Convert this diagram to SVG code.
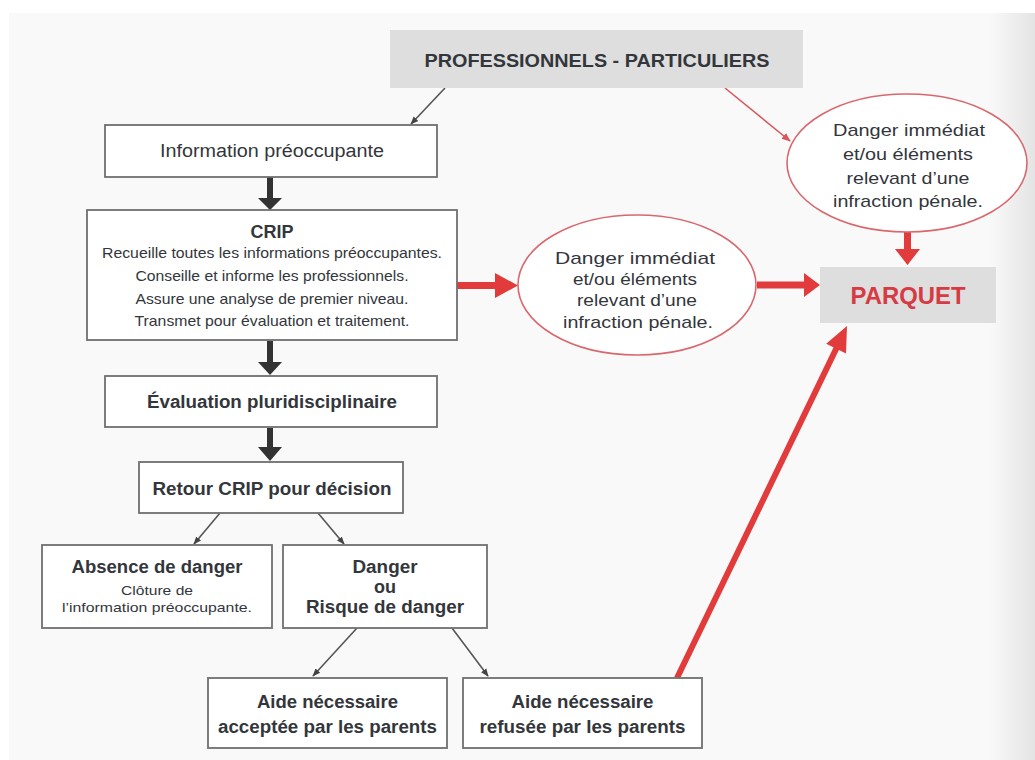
<svg xmlns="http://www.w3.org/2000/svg" width="1035" height="760" viewBox="0 0 1035 760">
<defs>
<style>
.t{font-family:"Liberation Sans",Arial,sans-serif;fill:#33363b;text-anchor:middle}
.b{font-weight:bold}
.box{fill:#fff;stroke:#6f6f6f;stroke-width:1.8}
.grey{fill:#dedede;stroke:none}
.ell{fill:#fff;stroke:#d9686e;stroke-width:1.6}
.thin{stroke:#555;stroke-width:1.6;fill:none}
.thinr{stroke:#d9575c;stroke-width:1.6;fill:none}
.dk{fill:#333}
.rd{fill:#e23b3b}
</style>
<marker id="ag" viewBox="0 0 10 10" refX="9" refY="5" markerWidth="8" markerHeight="8" orient="auto" markerUnits="userSpaceOnUse"><path d="M0,1 L10,5 L0,9 z" fill="#444"/></marker>
<marker id="ar" viewBox="0 0 10 10" refX="9" refY="5" markerWidth="9" markerHeight="9" orient="auto" markerUnits="userSpaceOnUse"><path d="M0,1 L10,5 L0,9 z" fill="#d9575c"/></marker>
<linearGradient id="edge" x1="0" y1="0" x2="1" y2="0"><stop offset="0" stop-color="#f9f9f9"/><stop offset="1" stop-color="#e4e4e4"/></linearGradient>
</defs>
<rect x="0" y="0" width="1035" height="760" fill="#fff"/>
<rect x="9" y="13" width="1026" height="747" fill="#f9f9f9"/>
<rect x="990" y="13" width="45" height="747" fill="url(#edge)"/>

<g id="connectors">
  <line class="thin" x1="445" y1="88" x2="411" y2="124" marker-end="url(#ag)"/>
  <line class="thinr" x1="725" y1="88" x2="790" y2="141" marker-end="url(#ar)"/>
  <path class="dk" d="M267,177 H273 V198 H282 L270,210 L258,198 H267 Z"/>
  <path class="dk" d="M267,341 H273 V362 H282 L270,375 L258,362 H267 Z"/>
  <path class="dk" d="M267,428 H273 V447 H282 L270,461 L258,447 H267 Z"/>
  <line class="thin" x1="220" y1="513" x2="194" y2="544" marker-end="url(#ag)"/>
  <line class="thin" x1="318" y1="513" x2="344" y2="544" marker-end="url(#ag)"/>
  <line class="thin" x1="357" y1="628" x2="313" y2="676" marker-end="url(#ag)"/>
  <line class="thin" x1="452" y1="628" x2="488" y2="676" marker-end="url(#ag)"/>
  <path class="rd" d="M457,282 H495 V273 L518,285.5 L495,298 V289 H457 Z"/>
  <path class="rd" d="M757,281.5 H804 V273 L820,285 L804,297 V288.5 H757 Z"/>
  <path class="rd" d="M904,232 H911 V249 H920 L907.5,265 L895,249 H904 Z"/>
  <line x1="677" y1="678" x2="838" y2="345" stroke="#e23b3b" stroke-width="6"/>
  <path class="rd" d="M847,326 L846,353.5 L826.2,343.7 Z"/>
</g>

<g id="professionnels">
  <rect class="grey" x="390" y="30" width="413" height="58"/>
  <text class="t b" x="597" y="67" font-size="19" textLength="345" lengthAdjust="spacingAndGlyphs">PROFESSIONNELS - PARTICULIERS</text>
</g>
<g id="information">
  <rect class="box" x="105" y="125" width="332" height="52"/>
  <text class="t" x="272" y="157" font-size="18" textLength="224" lengthAdjust="spacingAndGlyphs">Information préoccupante</text>
</g>
<g id="crip">
  <rect class="box" x="87" y="210" width="370" height="130"/>
  <text class="t b" x="272" y="238" font-size="18">CRIP</text>
  <text class="t" x="272" y="258" font-size="14.5" textLength="340" lengthAdjust="spacingAndGlyphs">Recueille toutes les informations préoccupantes.</text>
  <text class="t" x="272" y="281" font-size="14.5" textLength="273" lengthAdjust="spacingAndGlyphs">Conseille et informe les professionnels.</text>
  <text class="t" x="272" y="304" font-size="14.5" textLength="273" lengthAdjust="spacingAndGlyphs">Assure une analyse de premier niveau.</text>
  <text class="t" x="272" y="326" font-size="14.5" textLength="275" lengthAdjust="spacingAndGlyphs">Transmet pour évaluation et traitement.</text>
</g>
<g id="evaluation">
  <rect class="box" x="105" y="376" width="332" height="51"/>
  <text class="t b" x="272" y="408" font-size="18" textLength="250" lengthAdjust="spacingAndGlyphs">Évaluation pluridisciplinaire</text>
</g>
<g id="retour">
  <rect class="box" x="139" y="462" width="264" height="51"/>
  <text class="t b" x="272" y="495" font-size="18" textLength="239" lengthAdjust="spacingAndGlyphs">Retour CRIP pour décision</text>
</g>
<g id="absence">
  <rect class="box" x="42" y="545" width="230" height="83"/>
  <text class="t b" x="157" y="573" font-size="18" textLength="171" lengthAdjust="spacingAndGlyphs">Absence de danger</text>
  <text class="t" x="157" y="595" font-size="13" textLength="72" lengthAdjust="spacingAndGlyphs">Clôture de</text>
  <text class="t" x="157" y="612" font-size="13" textLength="190" lengthAdjust="spacingAndGlyphs">l’information préoccupante.</text>
</g>
<g id="danger">
  <rect class="box" x="283" y="545" width="204" height="83"/>
  <text class="t b" x="385" y="573" font-size="18" textLength="65" lengthAdjust="spacingAndGlyphs">Danger</text>
  <text class="t b" x="385" y="593" font-size="18">ou</text>
  <text class="t b" x="385" y="613" font-size="18" textLength="158" lengthAdjust="spacingAndGlyphs">Risque de danger</text>
</g>
<g id="aide-acceptee">
  <rect class="box" x="208" y="678" width="239" height="70"/>
  <text class="t b" x="327.5" y="708" font-size="18" textLength="141" lengthAdjust="spacingAndGlyphs">Aide nécessaire</text>
  <text class="t b" x="327.5" y="733" font-size="18" textLength="219" lengthAdjust="spacingAndGlyphs">acceptée par les parents</text>
</g>
<g id="aide-refusee">
  <rect class="box" x="463" y="678" width="239" height="70"/>
  <text class="t b" x="582.5" y="708" font-size="18" textLength="142" lengthAdjust="spacingAndGlyphs">Aide nécessaire</text>
  <text class="t b" x="582.5" y="733" font-size="18" textLength="206" lengthAdjust="spacingAndGlyphs">refusée par les parents</text>
</g>
<g id="danger-immediat-1">
  <ellipse class="ell" cx="637" cy="285" rx="119" ry="70"/>
  <text class="t" x="635" y="264" font-size="17" textLength="160" lengthAdjust="spacingAndGlyphs">Danger immédiat</text>
  <text class="t" x="635" y="285" font-size="17" textLength="124" lengthAdjust="spacingAndGlyphs">et/ou éléments</text>
  <text class="t" x="637" y="306" font-size="17" textLength="120" lengthAdjust="spacingAndGlyphs">relevant d’une</text>
  <text class="t" x="638" y="328" font-size="17" textLength="150" lengthAdjust="spacingAndGlyphs">infraction pénale.</text>
</g>
<g id="danger-immediat-2">
  <ellipse class="ell" cx="907" cy="163" rx="120" ry="69"/>
  <text class="t" x="909" y="136" font-size="17" textLength="152" lengthAdjust="spacingAndGlyphs">Danger immédiat</text>
  <text class="t" x="908" y="160" font-size="17" textLength="130" lengthAdjust="spacingAndGlyphs">et/ou éléments</text>
  <text class="t" x="908" y="184" font-size="17" textLength="123" lengthAdjust="spacingAndGlyphs">relevant d’une</text>
  <text class="t" x="908" y="207" font-size="17" textLength="150" lengthAdjust="spacingAndGlyphs">infraction pénale.</text>
</g>
<g id="parquet">
  <rect class="grey" x="820" y="267" width="176" height="56"/>
  <text class="t b" x="908" y="304" font-size="23" style="fill:#d63a42" textLength="115" lengthAdjust="spacingAndGlyphs">PARQUET</text>
</g>
</svg>
